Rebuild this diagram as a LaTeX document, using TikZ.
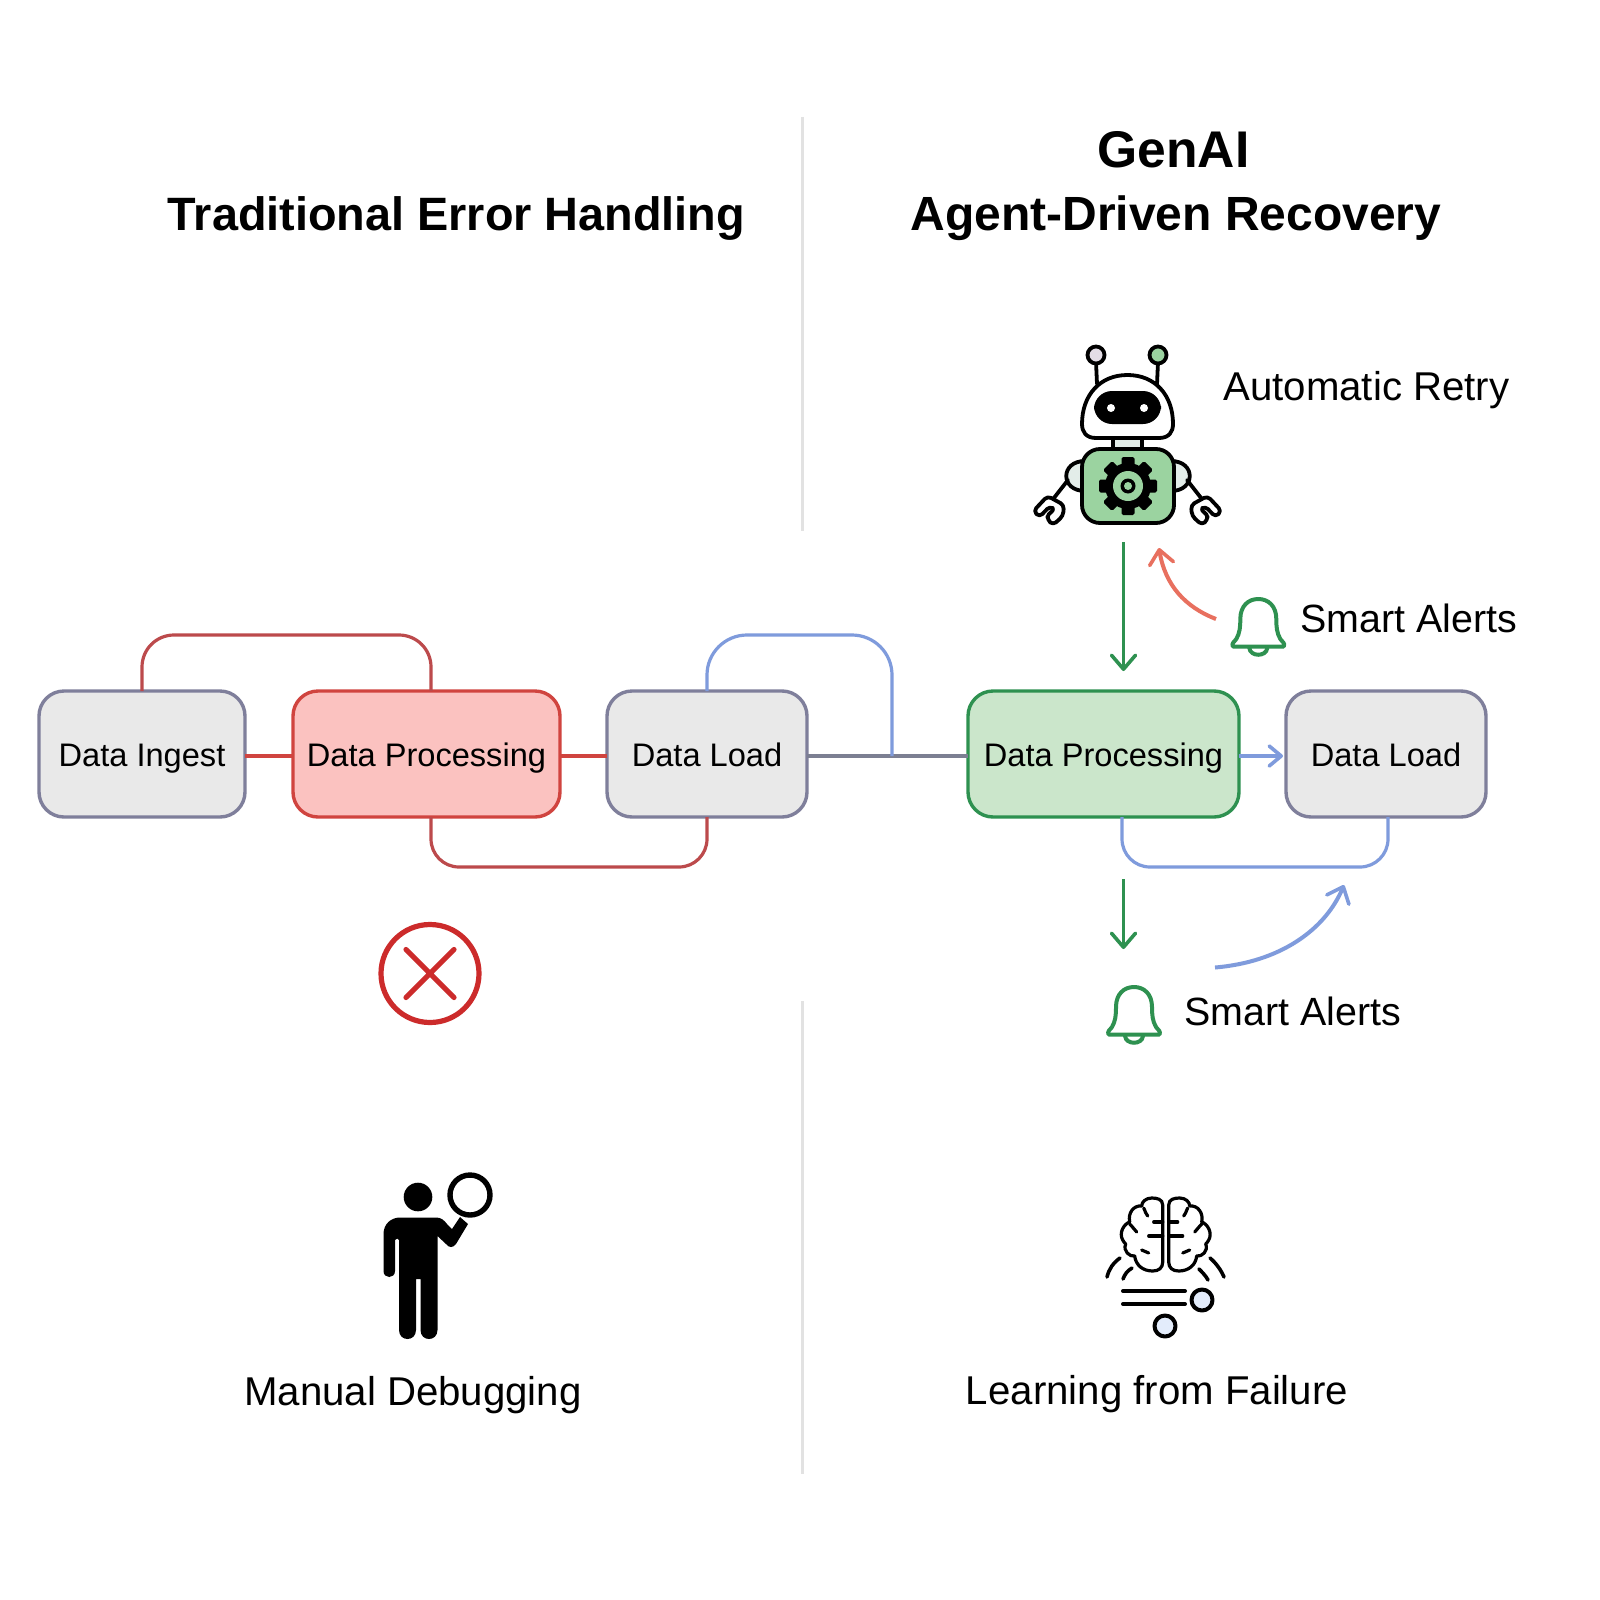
\documentclass[tikz,border=0pt]{standalone}
\usepackage{fontspec}
\setmainfont{Liberation Sans}
\usetikzlibrary{arrows.meta,calc}
\definecolor{boxgray}{HTML}{E9E9E9}
\definecolor{boxedge}{HTML}{7F7F9B}
\definecolor{redfill}{HTML}{FBC2C0}
\definecolor{rededge}{HTML}{D0443F}
\definecolor{redloop}{HTML}{BC4A4C}
\definecolor{greenfill}{HTML}{CBE6CB}
\definecolor{greenedge}{HTML}{2E9150}
\definecolor{bluel}{HTML}{7F9BDC}
\definecolor{salmon}{HTML}{E8705F}
\definecolor{slate}{HTML}{7C7F92}
\definecolor{divider}{HTML}{E2E2E2}
\definecolor{botgreen}{HTML}{9BD3A0}
\definecolor{botpale}{HTML}{E3EDE9}
\definecolor{botlilac}{HTML}{E3DDE6}
\definecolor{palecirc}{HTML}{E3ECFB}
\definecolor{crossred}{HTML}{CC2B2B}
\tikzset{
  boxbase/.style={rectangle,rounded corners=12.5pt,line width=1.7pt,inner sep=0pt,outer sep=0pt,
    minimum height=63pt,font=\fontsize{16.3}{20}\selectfont,text height=12pt,text depth=3.5pt},
  grayb/.style={boxbase,draw=boxedge,fill=boxgray},
  redb/.style={boxbase,draw=rededge,fill=redfill},
  greenb/.style={boxbase,draw=greenedge,fill=greenfill},
  linkl/.style={line width=1.6pt},
  loopl/.style={line width=1.6pt},
  barb/.style={-{Straight Barb[length=7pt,width=12pt,line width=1.8pt,round]}},
  titlet/.style={font=\fontsize{23.4}{28}\selectfont\bfseries,inner sep=0pt,text height=18pt,text depth=5pt},
  labelt/.style={font=\fontsize{20.1}{24}\selectfont,inner sep=0pt,text height=15pt,text depth=4pt},
  alertt/.style={font=\fontsize{19.7}{24}\selectfont,inner sep=0pt,text height=15pt,text depth=4pt},
  iconl/.style={line width=1.9pt,draw=black,line cap=round,line join=round},
  brainl/.style={line width=1.6pt,draw=black,line cap=round,line join=round},
  dividerl/.style={draw=divider,line width=1.5pt},
  bellicon/.pic={
    \draw[greenedge,line width=2pt,line join=round,line cap=round]
      (-25.5,47.5) .. controls (-27,44) and (-24,43) .. (-22,40)
      .. controls (-18.5,34) and (-18,28) .. (-18,20)
      .. controls (-18,7) and (-10,0) .. (0,0)
      .. controls (10,0) and (18,7) .. (18,20)
      .. controls (18,28) and (18.5,34) .. (22,40)
      .. controls (24,43) and (27,44) .. (25.5,47.5) -- cycle;
    \draw[greenedge,line width=2pt,line cap=round]
      (-9,49) .. controls (-8,58) and (8,58) .. (9,49);
  },
}
\begin{document}
\begin{tikzpicture}[x=0.5pt,y=-0.5pt]
\useasboundingbox (0,0) rectangle (1600,1600);
\fill[white] (0,0) rectangle (1600,1600);

% dividers
\coordinate (d1) at (802,117); \coordinate (d2) at (802,531);
\coordinate (d3) at (802,1001); \coordinate (d4) at (802,1474);
\draw[dividerl] (d1) -- (d2);
\draw[dividerl] (d3) -- (d4);

% titles
\node[titlet] (t1) at (456.5,217) {Traditional Error Handling};
\node[titlet,font=\fontsize{25.8}{28}\selectfont\bfseries] (t2) at (1173.5,155) {GenAI};
\node[titlet,font=\fontsize{24}{28}\selectfont\bfseries] (t3) at (1176,217) {Agent-Driven Recovery};

% boxes
\node[grayb,minimum width=103pt] (ingest) at (142,754) {\raisebox{-2pt}{Data Ingest}};
\node[redb,minimum width=133.5pt] (proc) at (426.5,754) {\raisebox{-2pt}{Data Processing}};
\node[grayb,minimum width=100pt] (load) at (707,754) {\raisebox{-2pt}{Data Load}};
\node[greenb,minimum width=135.5pt] (proc2) at (1103.5,754) {\raisebox{-2pt}{Data Processing}};
\node[grayb,minimum width=100pt] (load2) at (1386,754) {\raisebox{-2pt}{Data Load}};

% links
\draw[linkl,rededge] ([yshift=-1pt]ingest.east) -- ([yshift=-1pt]proc.west);
\draw[linkl,rededge] ([yshift=-1pt]proc.east) -- ([yshift=-1pt]load.west);
\draw[linkl,slate] ([yshift=-1pt]load.east) -- ([yshift=-1pt]proc2.west);
\draw[bluel,line width=1.8pt,-{Straight Barb[length=6pt,width=10pt,line width=1.8pt,round]}]
  ([yshift=-1pt]proc2.east) -- ([yshift=-1pt,xshift=-1.5pt]load2.west);

% loops
\coordinate (rt) at (431,635);
\coordinate (bt) at (892,635);
\coordinate (rb) at (431,867);
\coordinate (gb) at (1122,867);
\coordinate (gr) at (1388,867);
\coordinate (bj) at (892,756);
\draw[loopl,redloop,rounded corners=16pt] (ingest.north) |- (rt) -- (rt |- proc.north);
\draw[loopl,bluel,rounded corners=20pt] (load.north) |- (bt) -- (bj);
\draw[loopl,redloop,rounded corners=14pt] (rb |- proc.south) -- (rb) -| (load.south);
\draw[loopl,bluel,rounded corners=14pt] (gb |- proc2.south) -- (gb) -- (gr) -- (gr |- load2.south);

% cross
\node[circle,draw=crossred,line width=2.6pt,minimum size=49pt,inner sep=0pt] (err) at (430,973.5) {};
\draw[crossred,line width=2.6pt,line cap=round] (406,949.5) -- (454,997.5) (454,949.5) -- (406,997.5);

% robot
\draw[iconl] (1096,362) -- (1097,384);
\draw[iconl] (1158,362) -- (1157,384);
\draw[iconl,fill=botlilac] (1096,355) circle (8.5);
\draw[iconl,fill=botgreen] (1158,355) circle (8.5);
\draw[iconl,fill=botpale] (1113,436) rectangle (1142,452);
\draw[iconl,fill=white] (1096,438) .. controls (1086,438) and (1082,432) .. (1082,424)
  .. controls (1082,395) and (1100,375) .. (1127.5,375)
  .. controls (1155,375) and (1173,395) .. (1173,424)
  .. controls (1173,432) and (1169,438) .. (1159,438) -- cycle;
\fill[black,rounded corners=9pt] (1094,391) rectangle (1161,424);
\fill[white] (1111,408) circle (4) (1144,408) circle (4);
% shoulders and arms
\draw[iconl,fill=botpale] (1085,461) .. controls (1060,461) and (1060,491) .. (1085,491) -- cycle;
\draw[iconl,fill=botpale] (1171,461) .. controls (1196,461) and (1196,491) .. (1171,491) -- cycle;
\draw[iconl] (1068,480) -- (1050,503);
\draw[iconl] (1187,480) -- (1205,503);
\foreach \sx in {1,-1}{
  \begin{scope}[shift={(1127.5,0)},xscale=\sx]
  \draw[iconl,fill=white,rounded corners=2pt]
    (-94,511) -- (-80,496) -- (-63.5,505) -- (-64.5,516) -- (-74.5,525)
    -- (-80,520) -- (-80,514) -- (-72.5,510) -- (-77.5,506) -- (-88,517) -- cycle;
  \end{scope}
}
\draw[iconl,fill=botgreen,rounded corners=9pt] (1082,449) rectangle (1174,523);
% gear
\begin{scope}[shift={(1128,486)}]
  \foreach \a in {0,45,...,315}{
    \fill[black,rotate=\a,rounded corners=0.8pt] (-6.5,-29) rectangle (6.5,-18);
  }
  \fill[black] (0,0) circle (23);
  \fill[botgreen] (0,0) circle (15);
  \fill[black] (0,0) circle (7.5);
  \fill[botgreen] (0,0) circle (4);
\end{scope}

% labels
\node[labelt,anchor=west] (lb1) at (1223,389) {Automatic Retry};
\node[alertt,anchor=west] (lb2) at (1300,621) {Smart Alerts};
\node[alertt,anchor=west] (lb3) at (1184,1014) {Smart Alerts};
\node[labelt] (lb4) at (413,1394) {Manual Debugging};
\node[labelt] (lb5) at (1157,1393) {Learning from Failure};

% bells
\pic (bellA) at (1258.3,599) {bellicon};
\pic (bellB) at (1134,987) {bellicon};

% arrows right
\coordinate (a1s) at (1123.5,542); \coordinate (a1e) at (1123.5,671);
\coordinate (a2s) at (1123.5,879); \coordinate (a2e) at (1123.5,949);
\coordinate (a3s) at (1216,619);   \coordinate (a3e) at (1159,548);
\coordinate (a4s) at (1215,967.5); \coordinate (a4e) at (1344,885);
\draw[greenedge,line width=1.8pt,barb] (a1s) -- (a1e);
\draw[greenedge,line width=1.8pt,barb] (a2s) -- (a2e);
\draw[salmon,line width=2pt,barb] (a3s) .. controls (1185,607) and (1165,585) .. (a3e);
\draw[bluel,line width=2pt,barb] (a4s) .. controls (1280,962) and (1325,930) .. (a4e);

% person
\fill[black] (418,1197) circle (14.3);
\draw[black,line width=2.7pt] (470,1195) circle (20);
\fill[black,line join=round] (400,1217.5) -- (436,1217.5)
  .. controls (441,1217.5) and (444,1220) .. (447,1224)
  -- (452,1229) -- (460,1217) -- (468,1224) -- (456,1244)
  .. controls (453,1248) and (449,1248) .. (446,1244)
  -- (437.5,1236) -- (437.5,1330)
  .. controls (437.5,1342) and (420.5,1342) .. (420.5,1330)
  -- (420.5,1279) -- (416,1279) -- (416,1330)
  .. controls (416,1342) and (399,1342) .. (399,1330)
  -- (399,1240) .. controls (399,1238) and (396,1238) .. (395,1240)
  -- (395,1271) .. controls (395,1279) and (383.5,1279) .. (383.5,1271)
  -- (383.5,1234) .. controls (383.5,1224) and (391,1217.5) .. (400,1217.5) -- cycle;

% brain
\foreach \s in {1,-1}{
  \begin{scope}[shift={(1165.7,1235)},xscale=\s]
    \draw[brainl] (-3,-30) .. controls (-3,-36) and (-9,-37) .. (-14,-37)
      .. controls (-20,-37) and (-24,-33) .. (-24,-29)
      .. controls (-32,-30) and (-38,-22) .. (-36,-13)
      .. controls (-42,-11) and (-47,-2) .. (-43,5)
      .. controls (-42,7) and (-41,8) .. (-40,9)
      .. controls (-43,16) and (-36,22) .. (-31,21)
      .. controls (-30,30) and (-23,36) .. (-13,36)
      .. controls (-7,36) and (-3,33) .. (-3,27) -- cycle;
    \draw[brainl] (-3,-13) -- (-12,-13);
    \draw[brainl] (-3,1) -- (-17,1);
    \draw[brainl] (-22,-27) .. controls (-20,-23) and (-20,-21) .. (-18,-19);
    \draw[brainl] (-36,-11) .. controls (-33,-8) and (-31,-5) .. (-29,-3);
    \draw[brainl] (-24,15) -- (-17,18);
  \end{scope}
}
\draw[brainl,line width=1.8pt] (1107,1277) .. controls (1109,1269) and (1113,1263) .. (1120,1258);
\draw[brainl,line width=1.8pt] (1123,1279) .. controls (1125,1274) and (1127,1271) .. (1132,1268);
\draw[brainl,line width=1.8pt] (1210,1258) .. controls (1216,1263) and (1221,1270) .. (1224,1277);
\draw[brainl,line width=1.8pt] (1199,1269) .. controls (1202,1272) and (1206,1276) .. (1208,1280);
\draw[brainl,line width=2pt] (1123,1291) -- (1185,1291);
\draw[brainl,line width=2pt] (1123,1304) -- (1185,1304);
\draw[iconl,line width=2pt,fill=palecirc] (1202,1300) circle (10.5);
\draw[iconl,line width=2pt,fill=palecirc] (1165,1326) circle (10.5);
\end{tikzpicture}
\end{document}
